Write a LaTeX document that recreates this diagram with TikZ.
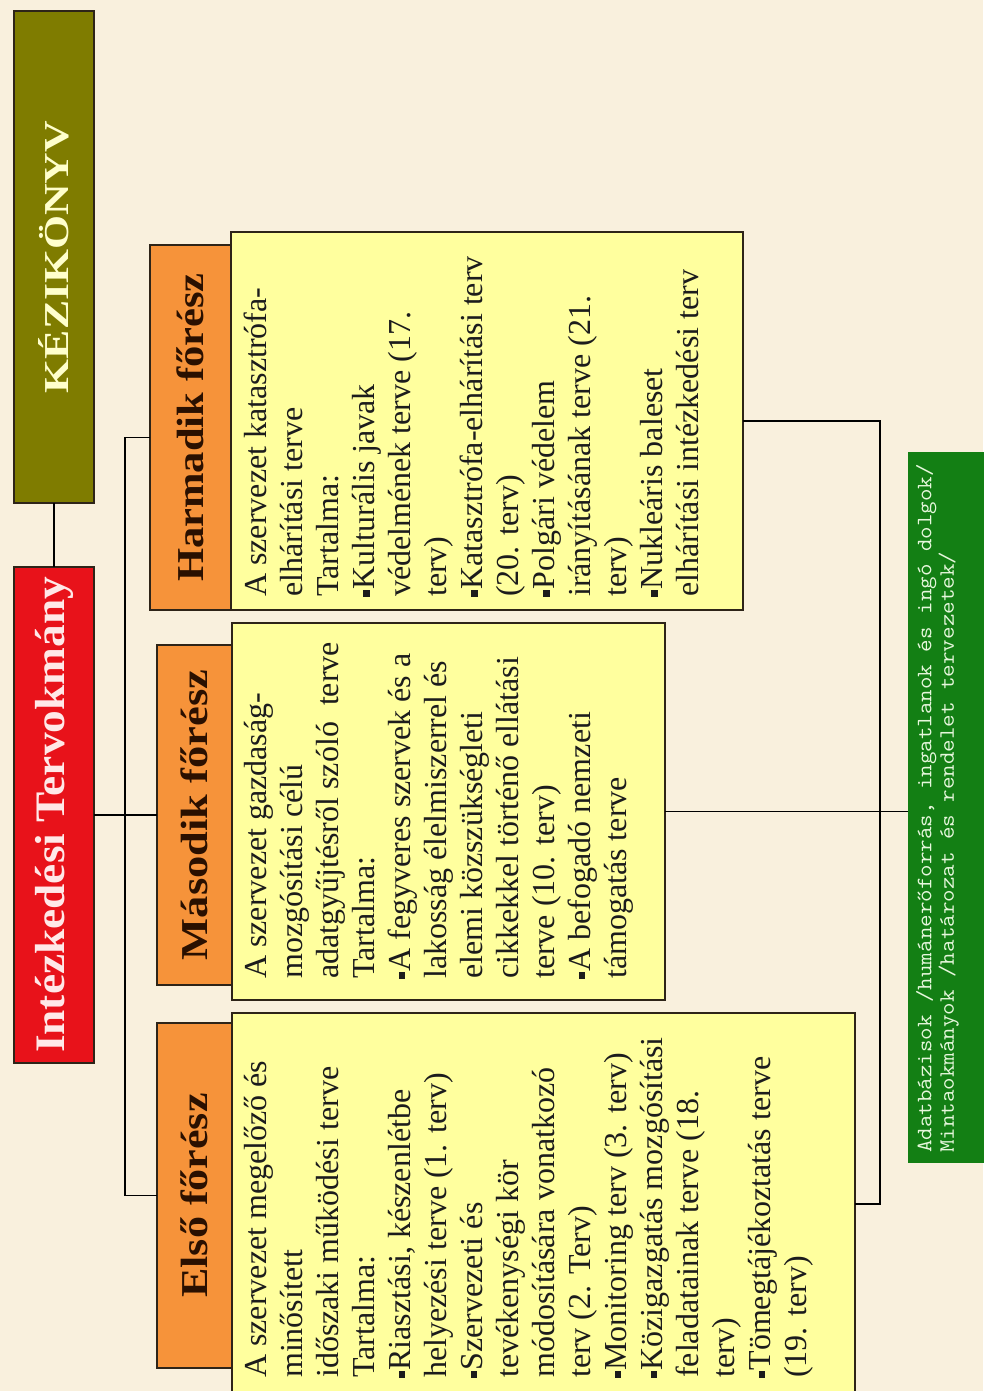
\documentclass[tikz,border=0pt]{standalone}
\usepackage{fontspec}
\usepackage{graphicx}
\setmainfont{Liberation Serif}
\usetikzlibrary{calc}

\definecolor{paper}{HTML}{F9F0DD}
\definecolor{olivefill}{HTML}{7F7C00}
\definecolor{olivetext}{HTML}{FFFFCC}
\definecolor{redfill}{HTML}{E8121A}
\definecolor{redtext}{HTML}{FFE8E8}
\definecolor{orangefill}{HTML}{F6933A}
\definecolor{orangetext}{HTML}{2A1000}
\definecolor{yellowfill}{HTML}{FFFF9E}
\definecolor{greenfill}{HTML}{137F14}
\definecolor{greentext}{HTML}{E6F7DC}
\definecolor{bodyink}{HTML}{1C1C1C}
\definecolor{frame}{HTML}{2E2418}

\newcommand\sqb{\rule[0.16em]{0.2em}{0.2em}\hspace{0.03em}}

\tikzset{
  panel/.style={draw=frame, line width=1.6pt, inner sep=0pt, outer sep=0pt, anchor=north west},
  link/.style={draw=black, line width=1.4pt},
  headtext/.style={rotate=90, inner sep=0pt},
  bodytext/.style={rotate=90, anchor=north west, align=left, inner sep=0pt,
    text=bodyink, font=\fontsize{32}{36}\selectfont},
}

\begin{document}
\begin{tikzpicture}[x=1pt,y=-1pt]
  % page background
  \fill[paper] (0,0) rectangle (983,1391);
  \useasboundingbox (0,0) rectangle (983,1391);

  % top-level boxes
  \node[panel, fill=olivefill, minimum width=80pt, minimum height=492pt] (kez) at (14,11) {};
  \node[panel, fill=redfill, minimum width=80pt, minimum height=496pt] (int) at (14,567) {};

  % section header boxes
  \node[panel, fill=orangefill, minimum width=81pt, minimum height=365pt] (harm) at (150,245) {};
  \node[panel, fill=orangefill, minimum width=75pt, minimum height=340pt] (mas) at (157,645) {};
  \node[panel, fill=orangefill, minimum width=75pt, minimum height=345pt] (elso) at (157,1023) {};

  % section content boxes
  \node[panel, fill=yellowfill, minimum width=512pt, minimum height=378pt] (harmy) at (231,232) {};
  \node[panel, fill=yellowfill, minimum width=433pt, minimum height=377pt] (masy) at (232,623) {};
  \node[panel, fill=yellowfill, minimum width=623pt, minimum height=382pt] (elsoy) at (232,1013) {};

  % resources box
  \node[panel, draw=none, fill=greenfill, minimum width=77pt, minimum height=711pt] (res) at (908,452) {};

  % titles
  \node[headtext, text=olivetext, font=\fontsize{35}{40}\selectfont\bfseries] (kezt) at (kez.center)
    {\scalebox{1.25}[1]{KÉZIKÖNYV}};
  \node[headtext, text=redtext, font=\fontsize{42}{46}\selectfont\bfseries] (intt) at (int.center)
    {\scalebox{1.08}[1]{Intézkedési Tervokmány}};
  \node[headtext, text=orangetext, font=\fontsize{38}{42}\selectfont\bfseries] (harmt) at (harm.center)
    {\scalebox{1.12}[1]{Harmadik főrész}};
  \node[headtext, text=orangetext, font=\fontsize{38}{42}\selectfont\bfseries] (mast) at (mas.center)
    {\scalebox{1.17}[1]{Második főrész}};
  \node[headtext, text=orangetext, font=\fontsize{38}{42}\selectfont\bfseries] (elsot) at (elso.center)
    {\scalebox{1.16}[1]{Első főrész}};

  % section contents
  \node[bodytext] (harmb) at (244,597) {%
    A szervezet katasztrófa-\\
    elhárítási terve\\
    Tartalma:\\
    \sqb Kulturális javak\\
    védelmének terve (17.\\
    terv)\\
    \sqb Katasztrófa-elhárítási terv\\
    (20. terv)\\
    \sqb Polgári védelem\\
    irányításának terve (21.\\
    terv)\\
    \sqb Nukleáris baleset\\
    elhárítási intézkedési terv};

  \node[bodytext] (masb) at (244,979) {%
    A szervezet gazdaság-\\
    mozgósítási célú\\
    adatgyűjtésről szóló\ \ terve\\
    Tartalma:\\
    \sqb A fegyveres szervek és a\\
    lakosság élelmiszerrel és\\
    elemi közszükségleti\\
    cikkekkel történő ellátási\\
    terve (10. terv)\\
    \sqb A befogadó nemzeti\\
    támogatás terve};

  \node[bodytext] (elsob) at (244,1378) {%
    A szervezet megelőző és\\
    minősített\\
    időszaki működési terve\\
    Tartalma:\\
    \sqb Riasztási, készenlétbe\\
    helyezési terve (1. terv)\\
    \sqb Szervezeti és\\
    tevékenységi kör\\
    módosítására vonatkozó\\
    terv (2. Terv)\\
    \sqb Monitoring terv (3. terv)\\
    \sqb Közigazgatás mozgósítási\\
    feladatainak terve (18.\\
    terv)\\
    \sqb Tömegtájékoztatás terve\\
    (19. terv)};

  \node[rotate=90, anchor=north west, align=left, inner sep=0pt, text=greentext,
        font=\ttfamily\fontsize{22}{22.5}\selectfont] (rest) at (916,1153) {%
    \scalebox{1.105}[1]{Adatbázisok /humánerőforrás, ingatlanok és ingó dolgok/}\\
    \scalebox{1.105}[1]{Mintaokmányok /határozat és rendelet tervezetek/}};

  % connectors, left side
  \coordinate (lbus) at (125,0);
  \path[link] (kez.south) -- (int.north);
  \path[link] (int.east) -- (mas.west);
  \path[link] ([yshift=-10pt]harm.west) -- ([yshift=-10pt]harm.west -| lbus)
    -- (elso.west -| lbus) -- (elso.west);

  % connectors, right side
  \coordinate (rbus) at (880,0);
  \path[link] (harmy.east) -- (harmy.east -| rbus) -- (elsoy.east -| rbus) -- (elsoy.east);
  \path[link] (masy.east) -- (masy.east -| res.west);
\end{tikzpicture}
\end{document}
